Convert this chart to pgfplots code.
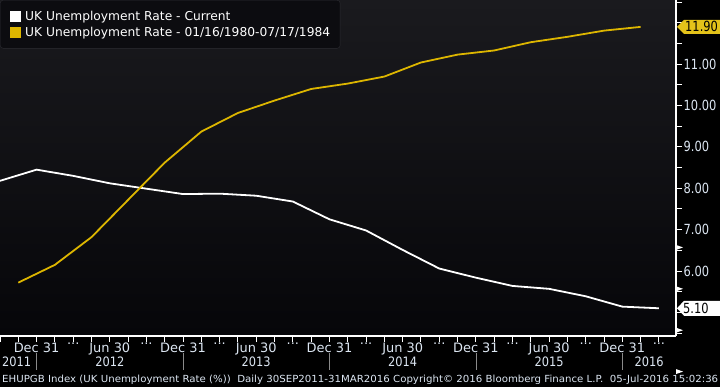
\documentclass[border=0pt]{standalone}
\usepackage{pgfplots}
\pgfplotsset{compat=1.18}
\usepackage{fontspec}
\usepackage{graphicx}
\setmainfont{DejaVu Sans}
\newfontfamily\narrowfont[FakeStretch=0.82]{DejaVu Sans}
\newfontfamily\yearfont[FakeStretch=0.88]{DejaVu Sans}
\definecolor{bgtop}{HTML}{1A1A1E}
\definecolor{bgbot}{HTML}{060609}
\definecolor{lbl}{HTML}{DCE6F2}
\definecolor{yel}{HTML}{DDB600}
\definecolor{tagyel}{HTML}{E3C21A}
\definecolor{legbg}{HTML}{0C0C10}
\definecolor{legbd}{HTML}{2C2C32}
\definecolor{sep}{HTML}{8A8A8A}
\newcommand\dd{...}
\begin{document}
\begin{tikzpicture}[x=1bp,y=1bp]
\fill[black] (0,-51) rectangle (720,336);
\shade[top color=bgtop, bottom color=bgbot] (0,0) rectangle (676,336);
\path[use as bounding box] (0,-51) rectangle (720,336);
\begin{axis}[
  at={(0,0)}, anchor=south west,
  scale only axis, width=676bp, height=336bp,
  xmin=0, xmax=55.4, ymin=4.43, ymax=12.55,
  axis x line*=bottom, axis y line*=right,
  axis line style={white, line width=1.2bp},
  tick align=outside,
  major tick length=6bp, minor tick length=6bp,
  every tick/.style={white, line width=1bp},
  xtick={0,3,...,54}, minor x tick num=1,
  xticklabels={{},Dec 31,\dd,Jun 30,\dd,Dec 31,\dd,Jun 30,\dd,Dec 31,\dd,Jun 30,\dd,Dec 31,\dd,Jun 30,\dd,Dec 31,\dd},
  ytick={6,7,8,9,10,11},
  yticklabels={6.00,7.00,8.00,9.00,10.00,11.00},
  minor ytick={4.5,5,5.5,6.5,7.5,8.5,9.5,10.5,11.5,12,12.5},
  xticklabel style={font=\fontsize{13}{13}\selectfont, text=lbl, anchor=north, inner sep=0pt, yshift=-0.5bp},
  yticklabel style={font=\narrowfont\fontsize{14}{14}\selectfont, text=lbl, anchor=west, inner sep=0pt, xshift=1.5bp},
  clip=false,
  legend cell align=left,
  legend image code/.code={\path[draw=none, fill=none] (0bp,0bp) -- (15bp,0bp); \fill[#1, draw=none, sharp corners] (2bp,-5.5bp) rectangle (13bp,5.5bp);},
  legend style={at={(0,1)}, anchor=north west, fill=legbg, draw=legbd, rounded corners=3bp,
    text=white, font=\fontsize{12.3}{14}\selectfont, inner xsep=8bp, inner ysep=8.5bp,
    nodes={inner sep=2bp}, row sep=1.5bp},
]
\addplot[white, line width=1.8bp] coordinates {
(0,8.18) (3,8.45) (6,8.30) (9,8.12) (12,7.99) (15,7.86) (18,7.87) (21,7.82)
(24,7.68) (27,7.25) (30,6.98) (33,6.51) (36,6.06) (39,5.84) (42,5.64) (45,5.57)
(48,5.39) (51,5.14) (54,5.10)};
\addlegendentry{UK Unemployment Rate - Current}
\addplot[yel, line width=1.8bp] coordinates {
(1.5,5.72) (4.5,6.15) (7.5,6.82) (10.5,7.72) (13.5,8.62) (16.5,9.37) (19.5,9.82)
(22.5,10.12) (25.5,10.40) (28.5,10.53) (31.5,10.70) (34.5,11.04) (37.5,11.23)
(40.5,11.33) (43.5,11.53) (46.5,11.66) (49.5,11.81) (52.5,11.90)};
\addlegendentry{UK Unemployment Rate - 01/16/1980-07/17/1984}
\pgfplotsinvokeforeach{6,7,8,9,10,11}{
  \fill[white] (axis cs:55.4,#1) ++(0,2.5bp) -- ++(7bp,-2.5bp) -- ++(-7bp,-2.5bp) -- cycle;
}
\coordinate (t1) at (axis cs:55.4,11.9);
\coordinate (t2) at (axis cs:55.4,5.1);
\end{axis}
\foreach \x/\y in {109.8/2012,256.2/2013,402.7/2014,549.1/2015,649.2/2016}{
  \node[text=lbl, font=\yearfont\fontsize{13}{13}\selectfont, inner sep=0pt] at (\x,-26) {\y};
}
\foreach \x in {36.6,183.0,329.5,475.9,622.3}{
  \draw[sep, line width=0.8bp] (\x,-17) -- (\x,-34);
}
\node[anchor=west, text=lbl, font=\yearfont\fontsize{13}{13}\selectfont, inner sep=0pt] at (2,-26) {2011};
\fill[tagyel] (t1) ++(1,0) -- ++(7,7) -- ++(36,0) -- ++(0,-14) -- ++(-36,0) -- cycle;
\node[anchor=west, text=black, font=\narrowfont\fontsize{14}{14}\selectfont, inner sep=0pt] at ([xshift=9bp]t1) {11.90};
\fill[white] (t2) ++(1,0) -- ++(7,7.5) -- ++(36,0) -- ++(0,-15) -- ++(-36,0) -- cycle;
\node[anchor=west, text=black, font=\narrowfont\fontsize{14}{14}\selectfont, inner sep=0pt] at ([xshift=7bp]t2) {5.10};
\node[anchor=base west, text=lbl, inner sep=0pt, font=\fontsize{9.8}{10}\selectfont] at (2,-46.5)
  {\resizebox{716bp}{\height}{EHUPGB Index (UK Unemployment Rate (\%))~ Daily 30SEP2011-31MAR2016 Copyright\textcopyright{} 2016 Bloomberg Finance L.P.~ 05-Jul-2016 15:02:36}};
\end{tikzpicture}
\end{document}
